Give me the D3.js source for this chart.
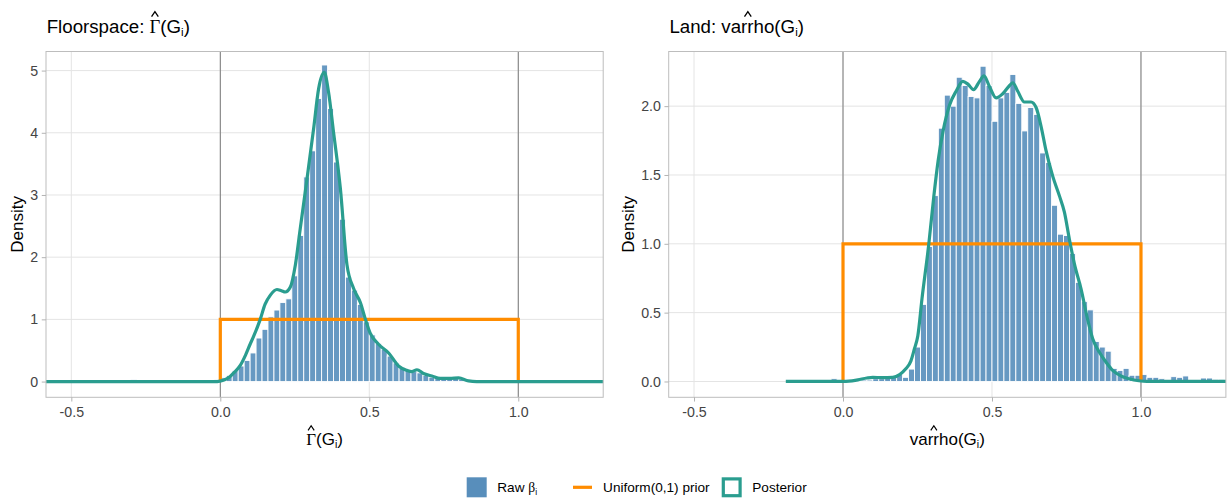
<!DOCTYPE html>
<html>
<head>
<meta charset="utf-8">
<script src="https://cdn.jsdelivr.net/npm/d3@7"></script>
<style>
  body { margin: 0; background: #fff; }
  svg { display: block; }
</style>
</head>
<body>
<svg id="chart"></svg>
<script>
// ---- data ----
var binWidth = 0.02;
var xTicks = [-0.5, 0, 0.5, 1];

// Floorspace panel
var floorBins = [-0.47, -0.29, -0.19, -0.15, -0.03, -0.01,
    0.01, 0.03, 0.05, 0.07, 0.09, 0.11, 0.13, 0.15, 0.17, 0.19, 0.21, 0.23, 0.25, 0.27, 0.29,
    0.31, 0.33, 0.35, 0.37, 0.39, 0.41, 0.43, 0.45, 0.47, 0.49, 0.51, 0.53, 0.55, 0.57, 0.59,
    0.61, 0.63, 0.65, 0.67, 0.69, 0.71, 0.73, 0.75, 0.77, 0.79, 0.81, 0.83];
var floorDensity = [0.02, 0.03, 0.02, 0.02, 0.02, 0.03,
    0.06, 0.10, 0.18, 0.25, 0.34, 0.46, 0.70, 0.84, 1.04, 1.15, 1.27, 1.33, 1.70, 2.35, 3.29,
    3.71, 4.55, 5.09, 4.39, 3.53, 2.61, 1.68, 1.47, 1.24, 0.96, 0.75, 0.61, 0.52, 0.41, 0.30,
    0.22, 0.18, 0.16, 0.14, 0.10, 0.07, 0.05, 0.05, 0.04, 0.06, 0.04, 0.02];
var floorPostX = [-0.585, -0.01, 0.01, 0.03, 0.045, 0.067, 0.085, 0.10, 0.112, 0.134, 0.15, 0.168,
    0.19, 0.205, 0.218, 0.235, 0.252, 0.268, 0.291, 0.313, 0.33, 0.349, 0.363, 0.38, 0.403,
    0.425, 0.447, 0.47, 0.487, 0.503, 0.531, 0.565, 0.598, 0.626, 0.643, 0.66, 0.682, 0.71,
    0.738, 0.77, 0.80, 0.833, 0.86, 1.285];
var floorPostY = [0, 0, 0.02, 0.07, 0.14, 0.26, 0.43, 0.60, 0.73, 1.0, 1.24, 1.39,
    1.48, 1.46, 1.44, 1.52, 1.88, 2.45, 3.26, 4.06, 4.71, 4.97, 4.66, 4.01, 3.10,
    1.88, 1.50, 1.27, 1.0, 0.78, 0.60, 0.46, 0.25, 0.18, 0.16, 0.19, 0.13, 0.09,
    0.05, 0.05, 0.06, 0.01, 0, 0];
var floorYTicks = [0, 1, 2, 3, 4, 5];

// Land panel
var landBins = [-0.05, -0.03, 0.05, 0.07, 0.09, 0.11, 0.13, 0.15, 0.17, 0.19, 0.21, 0.23, 0.25,
    0.27, 0.29, 0.31, 0.33, 0.35, 0.37, 0.39, 0.41, 0.43, 0.45, 0.47, 0.49, 0.51, 0.53, 0.55,
    0.57, 0.59, 0.61, 0.63, 0.65, 0.67, 0.69, 0.71, 0.73, 0.75, 0.77, 0.79, 0.81, 0.83, 0.85,
    0.87, 0.89, 0.91, 0.93, 0.95, 0.97, 0.99, 1.01, 1.03, 1.05, 1.07, 1.09, 1.11, 1.13, 1.15,
    1.17, 1.19, 1.21, 1.23, 1.25, 1.27];
var landDensity = [0.01, 0.02, 0.01, 0.01, 0.01, 0.02, 0.02, 0.03, 0.04, 0.05, 0.03, 0.09, 0.25,
    0.56, 0.98, 1.35, 1.84, 2.08, 2.00, 2.21, 2.15, 2.07, 2.06, 2.29, 2.15, 1.89, 2.06, 2.10,
    2.23, 2.02, 1.82, 1.99, 1.94, 1.66, 1.59, 1.28, 1.07, 1.06, 0.93, 0.72, 0.58, 0.52, 0.29,
    0.25, 0.22, 0.095, 0.08, 0.095, 0.045, 0.045, 0.05, 0.03, 0.03, 0.02, 0.01, 0.035, 0.03, 0.04,
    0.01, 0.01, 0.025, 0.025, 0.015, 0.015];
var landPostX = [-0.192, 0, 0.02, 0.05, 0.08, 0.10, 0.13, 0.167, 0.19, 0.21, 0.228, 0.24, 0.251,
    0.265, 0.288, 0.305, 0.319, 0.336, 0.358, 0.380, 0.402, 0.419, 0.438, 0.458, 0.473, 0.492,
    0.514, 0.536, 0.559, 0.570, 0.586, 0.609, 0.631, 0.648, 0.665, 0.681, 0.704, 0.726, 0.743,
    0.76, 0.776, 0.799, 0.821, 0.838, 0.861, 0.883, 0.905, 0.933, 0.96, 0.993, 1.02, 1.285];
var landPostY = [0, 0, 0.002, 0.012, 0.025, 0.03, 0.028, 0.03, 0.05, 0.09, 0.15, 0.24, 0.33,
    0.60, 1.0, 1.35, 1.6, 1.82, 2.01, 2.11, 2.18, 2.16, 2.12, 2.18, 2.22, 2.14,
    2.06, 2.09, 2.15, 2.17, 2.11, 2.03, 2.03, 1.99, 1.85, 1.68, 1.49, 1.35, 1.23,
    1.03, 0.86, 0.67, 0.45, 0.31, 0.21, 0.14, 0.08, 0.04, 0.02, 0.005, 0, 0];
var landYTicks = [0, 0.5, 1, 1.5, 2];

// Uniform(0,1) prior outline
var priorX = [0, 0, 1, 1];
var priorY = [0, 1, 1, 0];
var refLines = [0, 1];

var legendLabels = ["Raw", "Uniform(0,1) prior", "Posterior"];

// ---- setup ----
var svgWidth = 1231, svgHeight = 499;
var blue = "steelblue", orange = "#FF8C00", teal = "#2A9D8F";
var sans = '"Liberation Sans", Arial, sans-serif';
var serif = '"Liberation Serif", "DejaVu Serif", serif';

var svg = d3.select("#chart")
    .attr("width", svgWidth)
    .attr("height", svgHeight)
    .style("font-family", sans);

// draws text built from pieces; pieces with hat get a plotmath style hat
function richText(g, x, y, parts, size, anchor, color) {
    var t = g.append("text")
        .attr("x", x).attr("y", y)
        .attr("font-size", size)
        .attr("text-anchor", anchor || "start")
        .attr("fill", color || "#000");
    var shift = 0, idx = 0, hats = [];
    parts.forEach(function (p) {
        var dy = (p.sub ? 0.18 * size : 0) - shift;
        shift = p.sub ? 0.18 * size : 0;
        var ts = t.append("tspan").text(p.t).attr("dy", dy);
        if (p.serif) ts.style("font-family", serif);
        if (p.sub) ts.attr("font-size", size * 0.62);
        if (p.hat) hats.push([idx, p.t.length]);
        idx += p.t.length;
    });
    var node = t.node();
    hats.forEach(function (h) {
        var x0 = node.getStartPositionOfChar(h[0]).x;
        var x1 = node.getEndPositionOfChar(h[0] + h[1] - 1).x;
        var cx = (x0 + x1) / 2;
        g.append("path")
            .attr("d", "M" + (cx - 0.18 * size) + "," + (y - 0.86 * size) +
                "L" + cx + "," + (y - 1.13 * size) +
                "L" + (cx + 0.18 * size) + "," + (y - 0.86 * size))
            .attr("fill", "none")
            .attr("stroke", color || "#000")
            .attr("stroke-width", 0.07 * size);
    });
    return t;
}

function drawPanel(cfg) {
    var g = svg.append("g");
    var x = d3.scaleLinear().domain([-0.585, 1.285]).range([cfg.left, cfg.right]);
    var y = d3.scaleLinear().domain(cfg.yDomain).range([397.3, 51.5]);

    // grid
    g.selectAll(".gx").data(xTicks).enter().append("line")
        .attr("x1", function (d) { return x(d); }).attr("x2", function (d) { return x(d); })
        .attr("y1", y.range()[0]).attr("y2", y.range()[1])
        .attr("stroke", "#e4e4e4").attr("stroke-width", 1);
    g.selectAll(".gy").data(cfg.yTicks).enter().append("line")
        .attr("x1", cfg.left).attr("x2", cfg.right)
        .attr("y1", function (d) { return y(d); }).attr("y2", function (d) { return y(d); })
        .attr("stroke", "#e4e4e4").attr("stroke-width", 1);

    // reference lines at 0 and 1
    g.selectAll(".vl").data(refLines).enter().append("line")
        .attr("x1", function (d) { return x(d); }).attr("x2", function (d) { return x(d); })
        .attr("y1", y.range()[0]).attr("y2", y.range()[1])
        .attr("stroke", "#7a7a7a").attr("stroke-width", 1);

    // histogram
    g.selectAll(".bar").data(cfg.bins).enter().append("rect")
        .attr("x", function (d) { return x(d - binWidth / 2); })
        .attr("width", function (d) { return x(d + binWidth / 2) - x(d - binWidth / 2); })
        .attr("y", function (d, i) { return y(cfg.density[i]); })
        .attr("height", function (d, i) { return y(0) - y(cfg.density[i]); })
        .attr("fill", blue).attr("fill-opacity", 0.82)
        .attr("stroke", "white").attr("stroke-width", 0.9);

    // prior
    var line = d3.line()
        .x(function (d) { return x(d[0]); })
        .y(function (d) { return y(d[1]); });
    g.append("path")
        .datum(d3.zip(priorX, priorY))
        .attr("d", line)
        .attr("fill", "none").attr("stroke", orange).attr("stroke-width", 3.2);

    // posterior
    g.append("path")
        .datum(d3.zip(cfg.postX, cfg.postY))
        .attr("d", line.curve(d3.curveMonotoneX))
        .attr("fill", "none").attr("stroke", teal).attr("stroke-width", 3.2)
        .attr("stroke-linejoin", "round");

    // border
    g.append("rect")
        .attr("x", cfg.left).attr("y", y.range()[1])
        .attr("width", cfg.right - cfg.left).attr("height", y.range()[0] - y.range()[1])
        .attr("fill", "none").attr("stroke", "#bdbdbd").attr("stroke-width", 1);

    // axes
    var xAxis = d3.axisBottom(x).tickValues(xTicks).tickSize(4.25).tickPadding(5.2)
        .tickFormat(d3.format(".1f"));
    var yAxis = d3.axisLeft(y).tickValues(cfg.yTicks).tickSize(4.25).tickPadding(3.5)
        .tickFormat(d3.format(cfg.yFormat));
    var gx = g.append("g").attr("transform", "translate(0," + y.range()[0] + ")").call(xAxis);
    var gy = g.append("g").attr("transform", "translate(" + cfg.left + ",0)").call(yAxis);
    [gx, gy].forEach(function (a) {
        a.select(".domain").remove();
        a.selectAll(".tick line").attr("stroke", "#b3b3b3");
        a.selectAll(".tick text").attr("fill", "#444").attr("font-size", 14.2)
            .style("font-family", sans);
    });
    gx.selectAll(".tick text").text(function (d) { return d3.format(".1f")(d).replace("−", "-"); });

    // titles
    richText(g, cfg.left + 0.7, 32.7, cfg.title, 18.7, "start");
    richText(g, (cfg.left + cfg.right) / 2, 445, cfg.xTitle, 17, "middle");
    g.append("text")
        .attr("transform", "translate(" + cfg.yTitleX + ",224.4) rotate(-90)")
        .attr("text-anchor", "middle").attr("font-size", 17).attr("fill", "#000")
        .text("Density");
}

var gammaHat = [{ t: "\u0393", serif: true, hat: true }, { t: "(" }, { t: "G" }, { t: "i", sub: true }, { t: ")" }];
var varrhoHat = [{ t: "varrho", hat: true }, { t: "(" }, { t: "G" }, { t: "i", sub: true }, { t: ")" }];

drawPanel({
    left: 46, right: 603.2, yDomain: [-0.253, 5.307], yTicks: floorYTicks, yFormat: "d",
    bins: floorBins, density: floorDensity, postX: floorPostX, postY: floorPostY,
    title: [{ t: "Floorspace: " }].concat(gammaHat), xTitle: gammaHat, yTitleX: 23
});
drawPanel({
    left: 668.7, right: 1225.9, yDomain: [-0.115, 2.397], yTicks: landYTicks, yFormat: ".1f",
    bins: landBins, density: landDensity, postX: landPostX, postY: landPostY,
    title: [{ t: "Land: " }].concat(varrhoHat), xTitle: varrhoHat, yTitleX: 634
});

// ---- legend ----
var legend = svg.append("g");
var legendY = 487.3, keySize = 20;
var keyX = [466.7, 572.5, 721.7];
legend.append("rect")
    .attr("x", keyX[0]).attr("y", legendY - keySize / 2)
    .attr("width", keySize).attr("height", keySize)
    .attr("fill", blue).attr("fill-opacity", 0.9);
legend.append("line")
    .attr("x1", keyX[1] + 0.5).attr("x2", keyX[1] + keySize - 0.5)
    .attr("y1", legendY).attr("y2", legendY)
    .attr("stroke", orange).attr("stroke-width", 3.2);
legend.append("rect")
    .attr("x", keyX[2] + 1.6).attr("y", legendY - keySize / 2 + 1.6)
    .attr("width", keySize - 3.2).attr("height", keySize - 3.2)
    .attr("fill", "white").attr("stroke", teal).attr("stroke-width", 3.2);

var legendBaseline = legendY + 4.8;
richText(legend, keyX[0] + 30.6, legendBaseline,
    [{ t: legendLabels[0] + " " }, { t: "\u03B2", serif: true }, { t: "i", sub: true }], 13.6, "start");
richText(legend, keyX[1] + 30.6, legendBaseline, [{ t: legendLabels[1] }], 13.6, "start");
richText(legend, keyX[2] + 30.6, legendBaseline, [{ t: legendLabels[2] }], 13.6, "start");
</script>
</body>
</html>
